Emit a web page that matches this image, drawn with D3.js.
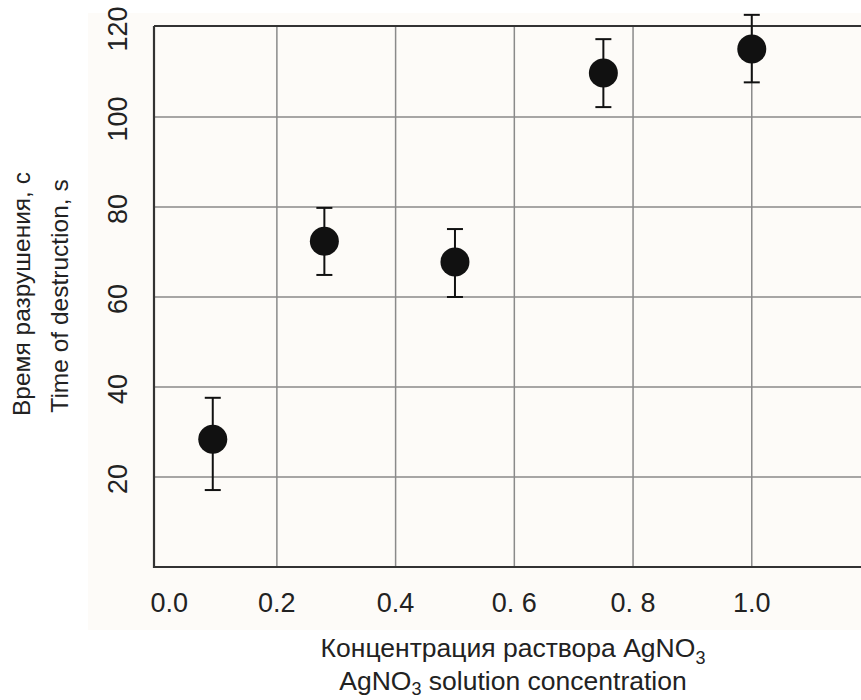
<!DOCTYPE html>
<html>
<head>
<meta charset="utf-8">
<script src="https://cdn.jsdelivr.net/npm/d3@7/dist/d3.min.js"></script>
<style>
  body { margin: 0; background: #fff; }
  text { font-family: "Liberation Sans", Arial, sans-serif; fill: #222; }
</style>
</head>
<body>
<div id="chart"></div>
<script>
// данные
var concentration = [0.092, 0.28, 0.5, 0.75, 1.0];
var timeMean = [28.4, 72.4, 67.8, 109.8, 115.1];
var timeLow = [17.1, 64.9, 60.0, 102.2, 107.7];
var timeHigh = [37.6, 79.8, 75.1, 117.3, 122.7];
var xTicks = [0.0, 0.2, 0.4, 0.6, 0.8, 1.0];
var xTickLabels = ['0.0', '0.2', '0.4', '0. 6', '0. 8', '1.0'];
var yTicks = [20, 40, 60, 80, 100, 120];

var width = 861, height = 700;
var points = concentration.map(function (c, i) {
  return { x: c, y: timeMean[i], lo: timeLow[i], hi: timeHigh[i] };
});

// шкалы
var x = d3.scaleLinear().domain([-0.007, 1.184]).range([154, 861]);
var y = d3.scaleLinear().domain([0, 120]).range([567, 27]);

var svg = d3.select('#chart').append('svg')
  .attr('width', width)
  .attr('height', height);

// светлый фон
svg.append('rect')
  .attr('x', 88).attr('y', 13)
  .attr('width', width - 88).attr('height', 617)
  .attr('fill', '#fdfbf8');

// сетка
svg.append('g').selectAll('line')
  .data(yTicks.filter(function (d) { return d < 120; }))
  .enter().append('line')
  .attr('x1', x.range()[0]).attr('x2', x.range()[1])
  .attr('y1', function (d) { return y(d); })
  .attr('y2', function (d) { return y(d); })
  .attr('stroke', '#8a8a8a').attr('stroke-width', 1.5);

svg.append('g').selectAll('line')
  .data(xTicks.filter(function (d) { return d > 0; }))
  .enter().append('line')
  .attr('x1', function (d) { return x(d); })
  .attr('x2', function (d) { return x(d); })
  .attr('y1', y(120)).attr('y2', y(0))
  .attr('stroke', '#8a8a8a').attr('stroke-width', 1.5);

// рамка
var frame = svg.append('g').attr('stroke', '#333').attr('stroke-width', 2.2);
frame.append('line')
  .attr('x1', x.range()[0]).attr('x2', x.range()[0])
  .attr('y1', y(120) - 1).attr('y2', y(0) + 1);
frame.append('line')
  .attr('x1', x.range()[0]).attr('x2', x.range()[1])
  .attr('y1', y(0)).attr('y2', y(0));
frame.append('line')
  .attr('x1', x.range()[0]).attr('x2', x.range()[1])
  .attr('y1', y(120) - 1).attr('y2', y(120) - 1);

// подписи делений
svg.append('g').selectAll('text')
  .data(xTicks)
  .enter().append('text')
  .attr('x', function (d, i) { return x(d) + (i === 0 ? 11 : 0); })
  .attr('y', 612)
  .attr('text-anchor', 'middle')
  .attr('font-size', 27)
  .text(function (d, i) { return xTickLabels[i]; });

svg.append('g').selectAll('text')
  .data(yTicks)
  .enter().append('text')
  .attr('transform', function (d) { return 'translate(127,' + (y(d) + 2) + ') rotate(-90)'; })
  .attr('text-anchor', 'middle')
  .attr('font-size', 27)
  .text(function (d) { return d; });

// названия осей
var yTitle = svg.append('g').attr('font-size', 24.5);
yTitle.append('text')
  .attr('transform', 'translate(30,294) rotate(-90)')
  .attr('text-anchor', 'middle')
  .text('Время разрушения, с');
yTitle.append('text')
  .attr('transform', 'translate(68,296) rotate(-90)')
  .attr('text-anchor', 'middle')
  .text('Time of destruction, s');

var t1 = svg.append('text')
  .attr('x', 513).attr('y', 657)
  .attr('text-anchor', 'middle')
  .attr('font-size', 26.5);
t1.append('tspan').text('Концентрация раствора AgNO');
t1.append('tspan').attr('dy', 7).attr('font-size', 18).text('3');

var t2 = svg.append('text')
  .attr('x', 513).attr('y', 690)
  .attr('text-anchor', 'middle')
  .attr('font-size', 26.5);
t2.append('tspan').text('AgNO');
t2.append('tspan').attr('dy', 5).attr('font-size', 18).text('3');
t2.append('tspan').attr('dy', -5).text(' solution concentration');

// погрешности
var err = svg.append('g').attr('stroke', '#111').attr('stroke-width', 2);
err.selectAll('.stem')
  .data(points).enter().append('line')
  .attr('x1', function (d) { return x(d.x); })
  .attr('x2', function (d) { return x(d.x); })
  .attr('y1', function (d) { return y(d.lo); })
  .attr('y2', function (d) { return y(d.hi); });
err.selectAll('.capHi')
  .data(points).enter().append('line')
  .attr('x1', function (d) { return x(d.x) - 8; })
  .attr('x2', function (d) { return x(d.x) + 8; })
  .attr('y1', function (d) { return y(d.hi); })
  .attr('y2', function (d) { return y(d.hi); });
err.selectAll('.capLo')
  .data(points).enter().append('line')
  .attr('x1', function (d) { return x(d.x) - 8; })
  .attr('x2', function (d) { return x(d.x) + 8; })
  .attr('y1', function (d) { return y(d.lo); })
  .attr('y2', function (d) { return y(d.lo); });

// точки
svg.append('g').selectAll('circle')
  .data(points).enter().append('circle')
  .attr('cx', function (d) { return x(d.x); })
  .attr('cy', function (d) { return y(d.y); })
  .attr('r', 14.5)
  .attr('fill', '#111');
</script>
</body>
</html>
